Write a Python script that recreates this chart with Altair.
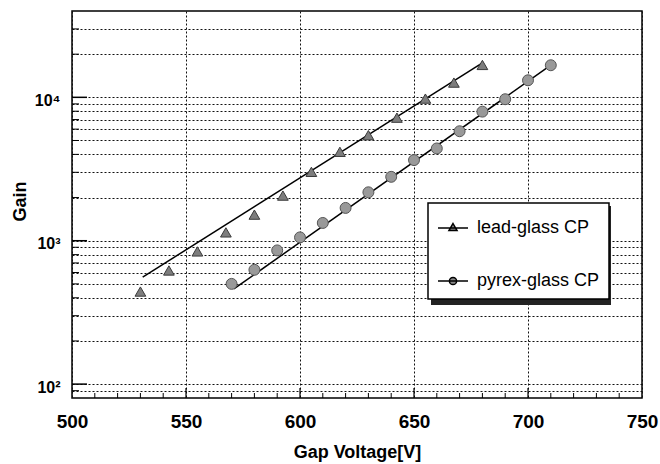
import altair as alt
import pandas as pd

# Measured gain vs. gap voltage for two capillary-plate types
lead_v = [530, 542.5, 555, 567.5, 580, 592.5, 605, 617.5, 630, 642.5, 655, 667.5, 680]
lead_gain = [442, 620, 842, 1143, 1520, 2064, 3022, 4169, 5447, 7211, 9795, 12670, 16820]

pyrex_v = [570, 580, 590, 600, 610, 620, 630, 640, 650, 660, 670, 680, 690, 700, 710]
pyrex_gain = [500, 627, 856, 1055, 1330, 1693, 2176, 2790, 3650, 4400, 5800, 7946, 9700, 13150, 16740]

# Exponential fits (straight lines on the log axis), given by their end points
lead_fit_v = [531, 680]
lead_fit_gain = [557, 17400]
pyrex_fit_v = [571, 710]
pyrex_fit_gain = [461, 16750]

series_names = ["lead-glass CP", "pyrex-glass CP"]

# Axis grid / tick positions
x_grid = [500, 550, 600, 650, 700, 750]
x_minor = [v for v in range(510, 750, 10) if v % 50 != 0]
x_major = [550, 600, 650, 700]
y_major = [100, 1000, 10000]
y_minor = [90] + [m * d for d in (100, 1000) for m in range(2, 10)] + [20000, 30000]
y_grid = sorted(y_major + y_minor)

W, H = 570, 387
FONT = "Liberation Sans"

xs = alt.Scale(domain=[500, 750], nice=False, zero=False)
ys = alt.Scale(type="log", domain=[80, 40000], nice=False)

lead_df = pd.DataFrame({"v": lead_v, "gain": lead_gain, "series": series_names[0]})
pyrex_df = pd.DataFrame({"v": pyrex_v, "gain": pyrex_gain, "series": series_names[1]})
fit_df = pd.concat([
    pd.DataFrame({"v": lead_fit_v, "gain": lead_fit_gain, "series": series_names[0]}),
    pd.DataFrame({"v": pyrex_fit_v, "gain": pyrex_fit_gain, "series": series_names[1]}),
])

x_axis = alt.Axis(
    values=x_grid, grid=True, gridDash=[2, 2], gridColor="#111", gridWidth=1,
    ticks=False, tickSize=0, domain=False, labelFlush=False,
    labelFont=FONT, labelFontSize=19, labelFontWeight="bold", labelColor="black",
    labelPadding=14, title="Gap Voltage[V]", titleFont=FONT, titleFontSize=18,
    titleFontWeight="bold", titleColor="black", titleBaseline="alphabetic", titleY=59,
)
y_axis = alt.Axis(
    values=y_grid, grid=True, gridDash=[2, 2], gridColor="#111", gridWidth=1,
    ticks=False, tickSize=0, domain=False, labelOverlap=False, labelFlush=False,
    labelExpr="datum.value == 100 ? '10²' : datum.value == 1000 ? '10³' : datum.value == 10000 ? '10⁴' : ''",
    labelFont=FONT, labelFontSize=16, labelFontWeight="bold", labelColor="black",
    labelPadding=12, labelOffset=3,
    title="Gain", titleFont=FONT, titleFontSize=18, titleFontWeight="bold",
    titleColor="black", titleBaseline="alphabetic", titleX=-47, titleY=190,
)

base_x = alt.X("v:Q", scale=xs)
base_y = alt.Y("gain:Q", scale=ys)

fit_lines = alt.Chart(fit_df).mark_line(color="black", strokeWidth=1.5).encode(
    x=alt.X("v:Q", scale=xs, axis=x_axis),
    y=alt.Y("gain:Q", scale=ys, axis=y_axis),
    detail="series:N",
)

lead_pts = alt.Chart(lead_df).mark_point(
    shape="triangle-up", filled=True, size=115, fill="#7d7d7d",
    stroke="#3a3a3a", strokeWidth=1, opacity=1,
).encode(x=base_x, y=base_y)

pyrex_pts = alt.Chart(pyrex_df).mark_point(
    shape="circle", filled=True, size=120, fill="#999999",
    stroke="#555555", strokeWidth=1, opacity=1,
).encode(x=base_x, y=base_y)

# Legend symbols: a short line segment through the series marker
tri_path = "M-1,0L1,0M0,-0.3L0.27,0.17L-0.27,0.17Z"
circ_path = "M-1,0L1,0M-0.24,0A0.24,0.24,0,1,1,0.24,0A0.24,0.24,0,1,1,-0.24,0Z"

legend_layer = alt.Chart(pd.concat([lead_df, pyrex_df])).transform_filter("false").mark_point(
    filled=False, fill="#8a8a8a", stroke="black", strokeWidth=1.5, opacity=1,
).encode(
    x=base_x, y=base_y,
    shape=alt.Shape(
        "series:N",
        scale=alt.Scale(domain=series_names, range=[tri_path, circ_path]),
        legend=alt.Legend(
            title=None, orient="none", legendX=356, legendY=192, direction="vertical",
            fillColor="white", strokeColor="black", padding=9,
            rowPadding=28, symbolSize=900, symbolStrokeWidth=1.5, symbolOpacity=1,
            labelFont=FONT, labelFontSize=18, labelOffset=8, labelColor="black",
        ),
    ),
)

# Drop shadow behind the legend box
shadow = alt.Chart(pd.DataFrame({"k": [0]})).mark_rect(color="#222").encode(
    x=alt.value(359), x2=alt.value(539), y=alt.value(195), y2=alt.value(294),
)

# Inward-pointing tick marks on the bottom and left frame edges
xt_minor = alt.Chart(pd.DataFrame({"v": x_minor})).mark_rule(color="black", strokeWidth=1).encode(
    x=base_x, y=alt.value(H), y2=alt.value(H - 5))
xt_major = alt.Chart(pd.DataFrame({"v": x_major})).mark_rule(color="black", strokeWidth=1.2).encode(
    x=base_x, y=alt.value(H), y2=alt.value(H - 10))
yt_minor = alt.Chart(pd.DataFrame({"gain": y_minor})).mark_rule(color="black", strokeWidth=1).encode(
    y=base_y, x=alt.value(0), x2=alt.value(7))
yt_major = alt.Chart(pd.DataFrame({"gain": y_major})).mark_rule(color="black", strokeWidth=1.5).encode(
    y=base_y, x=alt.value(0), x2=alt.value(15))

chart = alt.layer(
    fit_lines, xt_minor, xt_major, yt_minor, yt_major,
    lead_pts, pyrex_pts, shadow, legend_layer,
).properties(
    width=W, height=H,
    autosize=alt.AutoSizeParams(type="none"),
    padding={"left": 72, "top": 11, "right": 18, "bottom": 66},
    background="white",
).configure_view(stroke="black", strokeWidth=1.5).configure_legend(strokeWidth=1.5, cornerRadius=0)

chart.save("out.html", embed_options={"renderer": "svg", "actions": False})
